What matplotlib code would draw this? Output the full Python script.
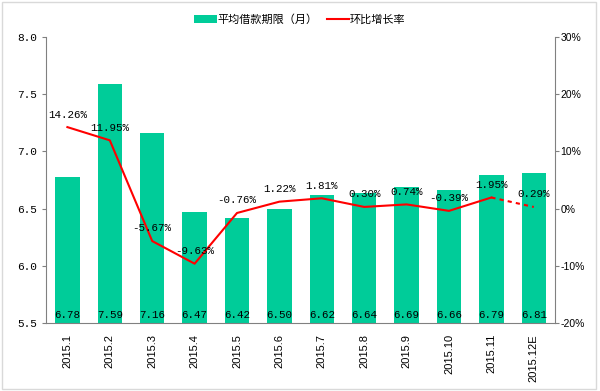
import matplotlib
matplotlib.use('Agg')
from matplotlib import pyplot as plt
from matplotlib.patches import Rectangle

months = ['2015.1', '2015.2', '2015.3', '2015.4', '2015.5', '2015.6',
          '2015.7', '2015.8', '2015.9', '2015.10', '2015.11', '2015.12E']
avg_term = [6.78, 7.59, 7.16, 6.47, 6.42, 6.50, 6.62, 6.64, 6.69, 6.66, 6.79, 6.81]
mom_growth = [14.26, 11.95, -5.67, -9.63, -0.76, 1.22, 1.81, 0.30, 0.74, -0.39, 1.95, 0.29]

plt.rcParams['font.family'] = ['Noto Sans CJK SC', 'DejaVu Sans']
green = '#00cc99'
red = '#ff0000'
mono = 'Liberation Mono'

fig = plt.figure(figsize=(6, 3.91), dpi=100)
fig.patches.append(Rectangle((0.004, 0.004), 0.99, 0.99, transform=fig.transFigure,
                             fill=False, edgecolor='#d9d9d9', linewidth=1))
ax = fig.add_axes([0.077, 0.174, 0.848, 0.731])
x = list(range(len(months)))
ax.bar(x, [v - 5.5 for v in avg_term], bottom=5.5, width=0.58, color=green,
       label='平均借款期限（月）', zorder=2)
ax.set_ylim(5.5, 8.0)
ax.set_xlim(-0.5, len(months) - 0.5)
ax.set_yticks([5.5, 6.0, 6.5, 7.0, 7.5, 8.0])
ax.set_yticklabels(['%.1f' % v for v in [5.5, 6.0, 6.5, 7.0, 7.5, 8.0]], family=mono, fontsize=8)
ax.set_xticks(x)
ax.set_xticklabels(months, rotation=90, family='Liberation Sans', fontsize=8)
ax.tick_params(axis='x', length=0, pad=8)
ax.tick_params(axis='y', length=3, color='#808080')
for s in ['top', 'right']:
    ax.spines[s].set_visible(False)
ax.spines['left'].set_color('#808080')
ax.spines['bottom'].set_color('#808080')
for i, v in enumerate(avg_term):
    ax.text(i, 5.57, '%.2f' % v, ha='center', va='center', family=mono, fontsize=7.8, zorder=4)

ax2 = ax.twinx()
ax2.plot(x[:-1], mom_growth[:-1], color=red, linewidth=1.5, label='环比增长率', zorder=3)
ax2.plot(x[-2:], mom_growth[-2:], color=red, linewidth=1.5, linestyle=(0, (2, 2)), zorder=3)
ax2.set_ylim(-20, 30)
ax2.set_yticks([-20, -10, 0, 10, 20, 30])
ax2.set_yticklabels(['%d%%' % v for v in [-20, -10, 0, 10, 20, 30]], family='Liberation Sans', fontsize=7.5)
ax2.tick_params(axis='y', length=3, color='#808080', pad=1)
for s in ['top', 'left', 'bottom']:
    ax2.spines[s].set_visible(False)
ax2.spines['right'].set_color('#808080')
for i, v in enumerate(mom_growth):
    ax2.text(i, v + 2.2, '%.2f%%' % v, ha='center', va='center', family=mono, fontsize=7.8, zorder=4)

h1, l1 = ax.get_legend_handles_labels()
h2, l2 = ax2.get_legend_handles_labels()
fig.legend(h1 + h2, l1 + l2, loc='center', bbox_to_anchor=(0.5, 0.95), ncol=2,
           frameon=False, fontsize=8, handlelength=2.0, handleheight=0.8,
           columnspacing=0.8, handletextpad=0.1)

fig.savefig('out.png', dpi=100)
